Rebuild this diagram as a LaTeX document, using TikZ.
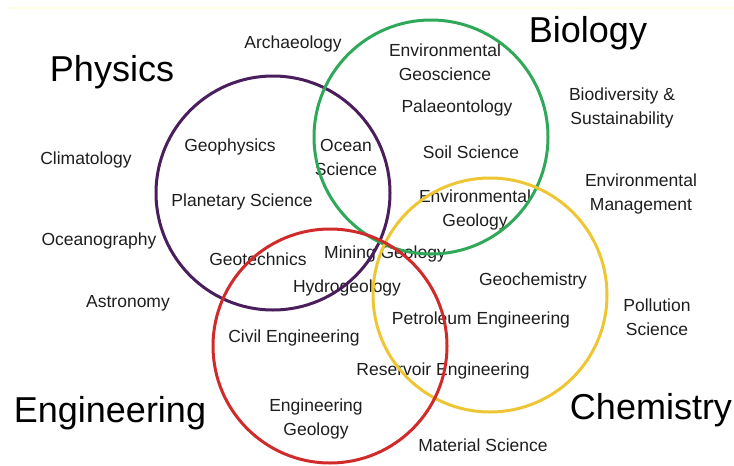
\documentclass[tikz,border=0pt]{standalone}
\usepackage{fontspec}
\setmainfont{Liberation Sans}
\usetikzlibrary{positioning}

\definecolor{physcol}{HTML}{4A1D5C}
\definecolor{biocol}{HTML}{2FA85A}
\definecolor{chemcol}{HTML}{EEC633}
\definecolor{engcol}{HTML}{D12A2A}
\definecolor{txtcol}{HTML}{1E1E1E}

\tikzset{
  field/.style={inner sep=0pt,align=center,text=txtcol,font=\fontsize{17.5}{24}\selectfont},
  subject/.style={inner sep=0pt,text=black,font=\fontsize{36}{40}\selectfont},
  ring/.style={circle,draw=#1,line width=3pt,minimum size=234pt,inner sep=0pt}
}

\begin{document}
\begin{tikzpicture}[x=1pt,y=-1pt]
\useasboundingbox (0,0) rectangle (734,466);
\draw[line width=1.2pt,color=yellow!12] (10,8) -- (734,8);

% the four subjects
\node[subject] (phys) at (112,72) {Physics};
\node[subject] (bio) at (588,33) {Biology};
\node[subject] (eng) at (110,413) {Engineering};
\node[subject] (chem) at (651,410) {Chemistry};

% fields
\foreach \name/\x/\y/\txt in {
    arch/293/44/{Archaeology},
    envgeo/445/62/{Environmental\\Geoscience},
    palae/457/108/{Palaeontology},
    biodiv/622/108/{Biodiversity \&\\Sustainability},
    soil/471/152/{Soil Science},
    envman/641/194/{Environmental\\Management},
    envgeol/475/210/{Environmental\\Geology},
    ocean/346/157/{Ocean\\Science},
    geoph/230/147/{Geophysics},
    clim/86/160/{Climatology},
    planet/242/202/{Planetary Science},
    oceano/99/241/{Oceanography},
    geotech/258/259/{Geotechnics},
    mining/385/254/{Mining Geology},
    hydro/347/288/{Hydrogeology},
    astro/128/303/{Astronomy},
    geochem/533/281/{Geochemistry},
    pollut/657/317/{Pollution\\Science},
    petrol/481/320/{Petroleum Engineering},
    civil/294/338/{Civil Engineering},
    reserv/443/371/{Reservoir Engineering},
    enggeol/316/419/{Engineering\\Geology},
    mater/483/445/{Material Science}}
  \node[field] (\name) at (\x,\y) {\txt};

% the rings
\node[ring=physcol] (physring) at (273,193) {};
\node[ring=biocol] (bioring) at (431,137) {};
\node[ring=chemcol] (chemring) at (490,295) {};
\node[ring=engcol] (engring) at (330,346) {};
\end{tikzpicture}
\end{document}
